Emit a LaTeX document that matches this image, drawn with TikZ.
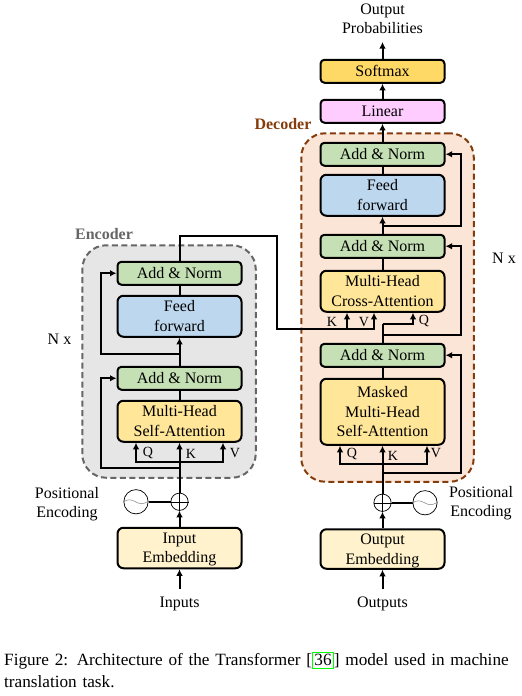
\documentclass[tikz,border=0pt]{standalone}
\usepackage{fontspec}
\setmainfont{Liberation Serif}
\usetikzlibrary{arrows.meta, positioning}
\definecolor{normgreen}{HTML}{C5E0B4}
\definecolor{feedblue}{HTML}{BDD7EE}
\definecolor{attyellow}{HTML}{FFE699}
\definecolor{embcream}{HTML}{FFF2CC}
\definecolor{softgold}{HTML}{FFD966}
\definecolor{linpink}{HTML}{FFCCFF}
\definecolor{encgray}{HTML}{E7E6E6}
\definecolor{encedge}{HTML}{666666}
\definecolor{decpeach}{HTML}{FBE5D6}
\definecolor{decedge}{HTML}{843C0C}
\tikzset{
    block/.style = {rectangle, rounded corners=4pt, draw=black, line width=2pt, inner sep=0pt,
                    minimum width=124pt, align=center,
                    font=\fontsize{16}{19.5}\selectfont},
    norm/.style = {block, fill=normgreen, minimum height=23pt},
    feed/.style = {block, fill=feedblue, rounded corners=6pt, minimum height=41pt},
    attn/.style = {block, fill=attyellow, rounded corners=6pt, minimum height=41pt},
    embed/.style = {block, fill=embcream, rounded corners=6pt, minimum height=40.5pt, text depth=0pt},
    group/.style = {rectangle, rounded corners=24pt, line width=2pt, dash pattern=on 6pt off 3.5pt, inner sep=0pt},
    txt/.style = {align=center, inner sep=0pt, font=\fontsize{16}{19.5}\selectfont},
    letter/.style = {inner sep=0pt, font=\fontsize{14}{16}\selectfont},
    grouptitle/.style = {inner sep=0pt, font=\fontsize{16}{18}\selectfont\bfseries},
    ring/.style = {circle, draw=black, line width=0.7pt, inner sep=0pt},
    wire/.style = {line width=2pt, draw=black},
    arrow/.style = {wire, -{Latex[length=6.5pt,width=6.5pt]}},
}

\begin{document}
\begin{tikzpicture}[x=1pt, y=-1pt]
\useasboundingbox (0,0) rectangle (522,696);

% Groups
\node (encgroup) [group, draw=encedge, fill=encgray, minimum width=173.5pt, minimum height=232.5pt] at (169,361.5) {};
\node (decgroup) [group, draw=decedge, fill=decpeach, minimum width=172.5pt, minimum height=348.5pt] at (387.5,307.5) {};
\node (enctitle) [grouptitle, text=encedge] at (104,234) {Encoder};
\node (dectitle) [grouptitle, text=decedge] at (283,124) {Decoder};

% Encoder
\node (embin) [embed] at (179.5,548) {Input\\Embedding};
\node (plusin) [ring, minimum size=17.3pt, above=16pt of embin] {};
\node (selfatt) [attn, above=50pt of plusin] {Multi-Head\\Self-Attention};
\node (encadda) [norm, above=9pt of selfatt] {Add \& Norm};
\node (encfeed) [feed, above=28pt of encadda] {Feed\\forward};
\node (encaddb) [norm, above=9pt of encfeed] {Add \& Norm};
\node (sinin) [ring, minimum size=24.3pt, left=22pt of plusin] {};
\node (inputs) [txt] at (179.5,604) {Inputs};
\node (posin) [txt] at (67,504) {Positional\\Encoding};
\node (nxenc) [txt] at (59.5,339) {N x};

% Decoder
\node (embout) [embed, minimum height=39.5pt] at (382.5,549) {Output\\Embedding};
\node (plusout) [ring, minimum size=17.3pt, above=16.5pt of embout] {};
\node (masked) [attn, minimum height=66pt, above=48pt of plusout] {Masked\\Multi-Head\\Self-Attention};
\node (decadda) [norm, above=10pt of masked] {Add \& Norm};
\node (cross) [attn, above=30pt of decadda] {Multi-Head\\Cross-Attention};
\node (decaddb) [norm, above=11pt of cross] {Add \& Norm};
\node (decfeed) [feed, above=17pt of decaddb] {Feed\\forward};
\node (decaddc) [norm, above=7pt of decfeed] {Add \& Norm};
\node (linear) [norm, fill=linpink, above=18pt of decaddc] {Linear};
\node (softmax) [norm, fill=softgold, above=15pt of linear] {Softmax};
\node (sinout) [ring, minimum size=24.3pt, right=21pt of plusout] {};
\node (outputs) [txt] at (382.5,604) {Outputs};
\node (probs) [txt] at (382.5,19) {Output\\Probabilities};
\node (posout) [txt] at (481,503) {Positional\\Encoding};
\node (nxdec) [txt] at (504,258) {N x};

% Letters
\node (encq) [letter] at (148,453) {Q};
\node (enck) [letter] at (191,454) {K};
\node (encv) [letter] at (235,453) {V};
\node (decq) [letter] at (352,454) {Q};
\node (deck) [letter] at (393,456) {K};
\node (decv) [letter] at (436,453) {V};
\node (crossklab) [letter] at (332,322) {K};
\node (crossvlab) [letter] at (364,322) {V};
\node (crossqlab) [letter] at (424,321) {Q};

% Caption
\node (caption) [anchor=north west, inner sep=0pt, text width=516pt, align=left,
    font=\fontsize{17.2}{21.5}\selectfont] at (4,652)
    {Figure 2: Architecture of the Transformer [{\setlength{\fboxsep}{1.5pt}\setlength{\fboxrule}{0.8pt}\fcolorbox{green}{white}{36}}] model used in machine\\translation task.};

% Free ends
\coordinate (infoot) at (179.5,589);
\coordinate (outfoot) at (382.5,589);
\coordinate (probfoot) at (382.5,42);
\coordinate (encfork) at (179.5,462);
\coordinate (encqx) at (136,0);
\coordinate (encvx) at (223,0);
\coordinate (encskipa) at (179.5,468);
\coordinate (encskipb) at (179.5,354);
\coordinate (encleft) at (101,0);
\coordinate (decfork) at (382.5,464);
\coordinate (decqx) at (340,0);
\coordinate (decvx) at (427,0);
\coordinate (decskipa) at (382.5,473);
\coordinate (decskipb) at (382.5,335);
\coordinate (decskipc) at (382.5,226);
\coordinate (decright) at (461,0);
\coordinate (crossqa) at (382.5,324);
\coordinate (crossqx) at (413,0);
\coordinate (crossvx) at (374,0);
\coordinate (crossk) at (347,329);
\coordinate (memtop) at (277,235.5);
\coordinate (membot) at (277,329);

% Arrows
\draw[arrow] (infoot) -- (embin);
\draw[arrow] (embin) -- (plusin.south);
\draw[arrow] (plusin.north) -- (selfatt);
\draw[wire] (selfatt) -- (encadda);
\draw[arrow] (encadda) -- (encfeed);
\draw[wire] (encfeed) -- (encaddb);
\draw[arrow] (encfork) -| (encqx |- selfatt.south);
\draw[arrow] (encfork) -| (encvx |- selfatt.south);
\draw[arrow] (encskipa) -| (encleft |- encadda) -- (encadda);
\draw[arrow] (encskipb) -| (encleft |- encaddb) -- (encaddb);
\draw[wire] (sinin) -- (plusin);
\draw[ring, line width=0.5pt] (plusin.north) -- (plusin.south) (plusin.west) -- (plusin.east);
\draw[gray, line width=0.5pt] (sinin.west) sin +(6,-2) cos +(6,2) sin +(6,2) cos +(6,-2);

\draw[arrow] (outfoot) -- (embout);
\draw[arrow] (embout) -- (plusout.south);
\draw[arrow] (plusout.north) -- (masked);
\draw[wire] (masked) -- (decadda);
\draw[wire] (decadda.north) -- (crossqa);
\draw[arrow] (crossqa) -| (crossqx |- cross.south);
\draw[wire] (cross) -- (decaddb);
\draw[arrow] (decaddb) -- (decfeed);
\draw[wire] (decfeed) -- (decaddc);
\draw[arrow] (decaddc) -- (linear);
\draw[arrow] (linear) -- (softmax);
\draw[arrow] (softmax) -- (probfoot);
\draw[arrow] (decfork) -| (decqx |- masked.south);
\draw[arrow] (decfork) -| (decvx |- masked.south);
\draw[arrow] (decskipa) -| (decright |- decadda) -- (decadda);
\draw[arrow] (decskipb) -| (decright |- decaddb) -- (decaddb);
\draw[arrow] (decskipc) -| (decright |- decaddc) -- (decaddc);
\draw[wire] (sinout) -- (plusout);
\draw[ring, line width=0.5pt] (plusout.north) -- (plusout.south) (plusout.west) -- (plusout.east);
\draw[gray, line width=0.5pt] (sinout.west) sin +(6,-2) cos +(6,2) sin +(6,2) cos +(6,-2);

\draw[arrow] (encaddb.north) |- (memtop) -- (membot) -| (crossvx |- cross.south);
\draw[arrow] (crossk) -- (crossk |- cross.south);
\end{tikzpicture}
\end{document}
